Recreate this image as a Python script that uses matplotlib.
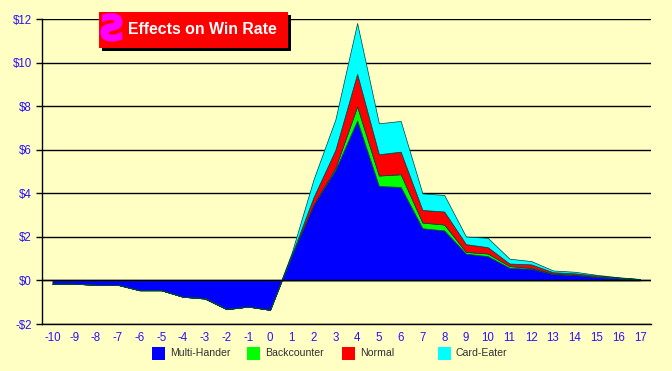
import matplotlib
matplotlib.use("Agg")
import matplotlib.pyplot as plt
import matplotlib.patheffects as pe
from matplotlib.patches import Rectangle

plt.rcParams['font.family'] = ['Liberation Sans', 'DejaVu Sans']

x_vals = list(range(-10, 18))
multi_hander = [-0.15, -0.15, -0.2, -0.2, -0.45, -0.45, -0.75, -0.8, -1.3, -1.2, -1.35,
                1.16, 3.47, 5.08, 7.35, 4.34, 4.3, 2.4, 2.3, 1.23, 1.12, 0.58, 0.54, 0.29, 0.25, 0.16, 0.1, 0.03]
backcounter = [0, 0, 0, 0, 0, 0, 0, -0.03, -0.02, 0, 0,
               0.02, 0.03, 0.09, 0.65, 0.48, 0.58, 0.26, 0.27, 0.08, 0.12, 0.08, 0.04, 0.03, 0.02, 0.01, 0.0, 0.0]
normal = [0, 0, 0, 0, 0, 0, 0, 0, 0, 0, 0,
          0.02, 0.34, 0.83, 1.5, 0.98, 1.04, 0.58, 0.6, 0.36, 0.29, 0.12, 0.16, 0.06, 0.06, 0.05, 0.03, 0.03]
card_eater = [0, 0, 0, 0, 0, 0, 0, 0, 0, 0, 0,
              0.1, 0.82, 1.4, 2.33, 1.42, 1.41, 0.76, 0.76, 0.35, 0.43, 0.22, 0.15, 0.08, 0.07, 0.04, 0.02, 0.01]
series_names = ["Multi-Hander", "Backcounter", "Normal", "Card-Eater"]
series_colors = ["#0000ff", "#00ff00", "#ff0000", "#00ffff"]
y_ticks = [-2, 0, 2, 4, 6, 8, 10, 12]
y_labels = ["-$2", "$0", "$2", "$4", "$6", "$8", "$10", "$12"]
title_text = "Effects on Win Rate"

BG = "#ffffc4"
W, H = 672, 371
TICK = "#2a10ff"
fig = plt.figure(figsize=(W / 100, H / 100), dpi=100, facecolor=BG)
ax = fig.add_axes([41.5 / W, 1 - 324 / H, (651 - 41.5) / W, (324 - 19.3) / H], facecolor=BG)

ax.stackplot(x_vals, multi_hander, backcounter, normal, card_eater,
             colors=series_colors, edgecolor="#004040", linewidth=0.5, zorder=3)
ax.axhline(0, color="black", lw=1.0, zorder=4)
ax.set_xlim(-10.5, 17.5)
ax.set_ylim(-2, 12)
ax.set_yticks(y_ticks, y_labels)
ax.set_xticks(x_vals, [str(v) for v in x_vals])
ax.grid(axis="y", color="black", lw=1.0, zorder=1)
ax.set_axisbelow(True)
for s in ("top", "right"):
    ax.spines[s].set_visible(False)
for s in ("left", "bottom"):
    ax.spines[s].set_linewidth(1.0)
ax.tick_params(axis="y", length=4, width=1, color="black", labelcolor=TICK, labelsize=8.3, pad=3)
ax.tick_params(axis="x", length=0, labelcolor=TICK, labelsize=8.3, pad=6)

def px_rect(x0, y0, x1, y1, color, z=10):
    fig.add_artist(Rectangle((x0 / W, 1 - y1 / H), (x1 - x0) / W, (y1 - y0) / H,
                             transform=fig.transFigure, facecolor=color, edgecolor="none", zorder=z))

# Title box
px_rect(102, 15, 291, 51, "black", 10)
px_rect(99, 12, 288, 48, "red", 11)
fig.text(113 / W, 1 - 30 / H, "Ƨ", color="#ff00ff", fontsize=25, fontweight="bold",
         family="DejaVu Sans", ha="center", va="center", zorder=12,
         path_effects=[pe.withStroke(linewidth=1.5, foreground="#ff00ff")])
fig.text(128 / W, 1 - 29.5 / H, title_text, color="white", fontsize=11.4, fontweight="bold",
         ha="left", va="center", zorder=12)

# Legend
for name, color, sx in zip(series_names, series_colors, [152, 247, 342, 438]):
    px_rect(sx, 347, sx + 13, 360, color)
    fig.text((sx + 18) / W, 1 - 353.5 / H, name, color="#303030", fontsize=7.6, ha="left", va="center", zorder=12)

fig.savefig("out.png", dpi=100, facecolor=BG)
